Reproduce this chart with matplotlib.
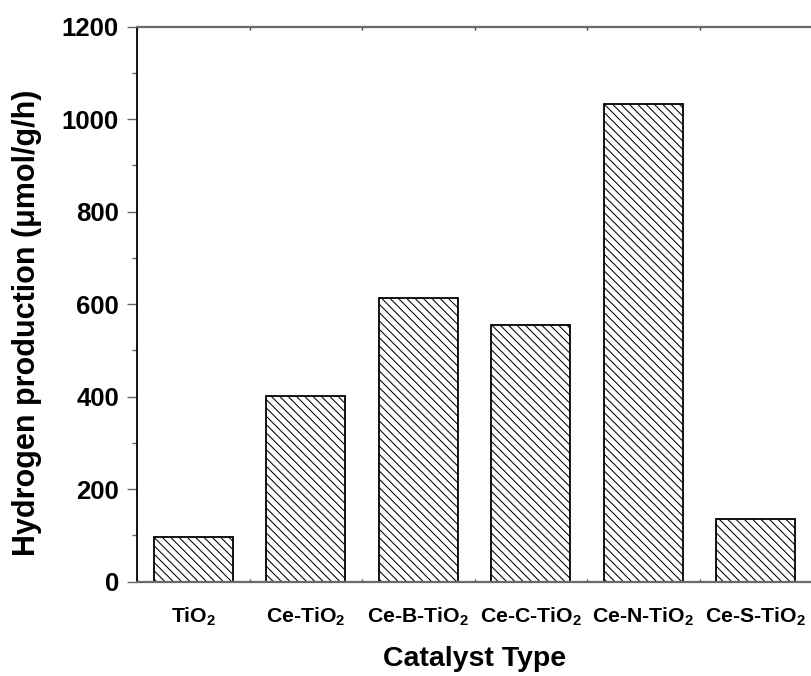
import matplotlib
matplotlib.use("Agg")
import matplotlib.pyplot as plt
from matplotlib.ticker import MultipleLocator

plt.rcParams['font.family'] = ['Liberation Sans', 'DejaVu Sans']
plt.rcParams['font.weight'] = 'bold'
plt.rcParams['mathtext.fontset'] = 'custom'
plt.rcParams['mathtext.rm'] = 'Liberation Sans:bold'
plt.rcParams['mathtext.bf'] = 'Liberation Sans:bold'
plt.rcParams['mathtext.it'] = 'Liberation Sans:bold'
plt.rcParams['mathtext.default'] = 'rm'
plt.rcParams['hatch.linewidth'] = 0.75
plt.rcParams['hatch.color'] = 'black'

# Catalysts and measured hydrogen evolution rates
catalysts = ['TiO$_2$', 'Ce-TiO$_2$', 'Ce-B-TiO$_2$', 'Ce-C-TiO$_2$',
             'Ce-N-TiO$_2$', 'Ce-S-TiO$_2$']
h2_rate = [96, 402, 614, 556, 1033, 135]
y_ticks = [0, 200, 400, 600, 800, 1000, 1200]

fig = plt.figure(figsize=(8.11, 6.76), dpi=100)
ax = fig.add_axes([137 / 811, 94.3 / 676, 675 / 811, 555 / 676])

x = list(range(len(catalysts)))
ax.bar(x, h2_rate, width=0.70, color='white', edgecolor='black',
       linewidth=1.3, hatch='\\\\\\\\', zorder=2)

ax.set_xlim(-0.5, 5.5)
ax.set_ylim(0, 1200)
ax.set_xticks(x)
ax.set_xticklabels(catalysts, fontsize=15.3, fontweight='bold')
ax.set_yticks(y_ticks)
ax.set_yticklabels([str(v) for v in y_ticks], fontsize=18.5, fontweight='bold')
ax.yaxis.set_minor_locator(MultipleLocator(100))
ax.xaxis.set_minor_locator(MultipleLocator(0.5))

ax.tick_params(axis='y', which='major', direction='out', length=7,
               width=1.0, color='#666666', pad=6)
ax.tick_params(axis='y', which='minor', direction='out', length=3.5,
               width=1.0, color='#666666')
ax.tick_params(axis='x', which='both', direction='in', length=2,
               width=1.0, color='#444444', top=True, pad=17)
ax.tick_params(axis='x', which='major', length=0)

for side in ('top', 'bottom'):
    ax.spines[side].set_color('#6a6a6a')
    ax.spines[side].set_linewidth(1.6)
ax.spines['left'].set_color('black')
ax.spines['left'].set_linewidth(1.3)
ax.spines['right'].set_visible(False)

ax.set_xlabel('Catalyst Type', fontsize=20.5, fontweight='bold', labelpad=13)
ax.set_ylabel('Hydrogen production (\u03bcmol/g/h)', fontsize=22,
              fontweight='bold')
ax.yaxis.set_label_coords(-0.141, 0.466)

fig.savefig('out.png', dpi=100)
